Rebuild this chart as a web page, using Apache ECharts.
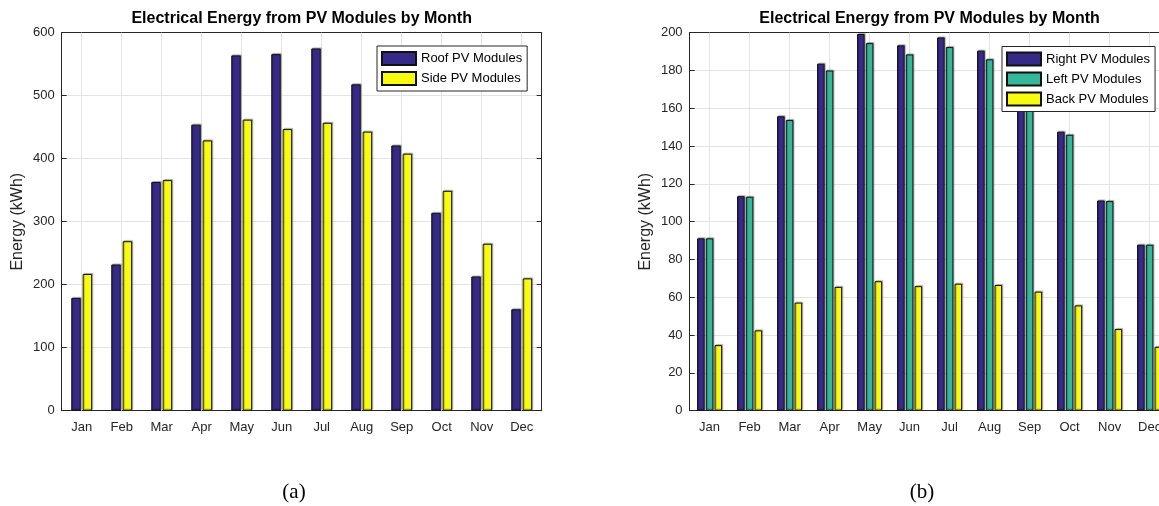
<!DOCTYPE html>
<html>
<head>
<meta charset="utf-8">
<title>Electrical Energy from PV Modules by Month</title>
<script src="https://cdn.jsdelivr.net/npm/echarts@6/dist/echarts.min.js"></script>
<style>
  html, body { margin: 0; padding: 0; background: #fff; }
  #main { width: 1159px; height: 506px; }
</style>
</head>
<body>
<div id="main"></div>
<script>
// Monthly energy (kWh)
const months = ['Jan', 'Feb', 'Mar', 'Apr', 'May', 'Jun', 'Jul', 'Aug', 'Sep', 'Oct', 'Nov', 'Dec'];

// (a) roof vs. side modules
const roofPV = [179, 232, 363, 454, 564, 566, 575, 518, 421, 314, 213, 161];
const sidePV = [217, 269, 366, 429, 462, 447, 457, 443, 408, 349, 265, 210];

// (b) right / left / back modules
const rightPV = [91.2, 113.5, 155.8, 183.6, 199.3, 193.3, 197.5, 190.5, 172.0, 147.6, 111.2, 87.8];
const leftPV  = [91.2, 113.2, 153.8, 180.0, 194.5, 188.5, 192.4, 185.9, 168.0, 146.0, 110.9, 87.8];
const backPV  = [34.7, 42.5, 57.2, 65.5, 68.5, 65.9, 67.2, 66.5, 63.0, 55.7, 43.2, 33.8];

const TITLE = 'Electrical Energy from PV Modules by Month';
const AXIS_NAME = 'Energy (kWh)';

const SANS = 'Liberation Sans, Arial, Helvetica, sans-serif';
const SERIF = 'Liberation Serif, DejaVu Serif, serif';
const INK = '#262626';
const GRID_LINE = '#e3e3e3';

const C_BLUE = '#352a87';
const C_GREEN = '#35b79b';
const C_YELLOW = '#f9fb0e';

const barStyle = (color) => ({
  color: color,
  borderColor: '#111',
  borderWidth: 1,
  shadowColor: 'rgba(0,0,0,0.28)',
  shadowOffsetX: 1,
  shadowOffsetY: -1,
  shadowBlur: 1
});

function xAxes(gridIndex) {
  const common = {
    type: 'category',
    gridIndex: gridIndex,
    data: months,
    boundaryGap: true,
    axisLine: { show: true, onZero: false, lineStyle: { color: INK, width: 1 } },
    axisTick: { show: true, inside: true, alignWithLabel: true, length: 5, lineStyle: { color: INK } },
    splitLine: { show: false }
  };
  return [
    Object.assign({}, common, {
      position: 'bottom',
      axisLabel: { color: INK, fontSize: 13, fontFamily: SANS, margin: 10 }
    }),
    Object.assign({}, common, {
      position: 'top',
      axisLabel: { show: false }
    })
  ];
}

function yAxes(gridIndex, max, interval) {
  const common = {
    type: 'value',
    gridIndex: gridIndex,
    min: 0,
    max: max,
    interval: interval,
    axisLine: { show: true, lineStyle: { color: INK, width: 1 } },
    axisTick: { show: true, inside: true, length: 5, lineStyle: { color: INK } }
  };
  return [
    Object.assign({}, common, {
      position: 'left',
      name: AXIS_NAME,
      nameLocation: 'middle',
      nameGap: 36,
      nameTextStyle: { color: INK, fontSize: 16, fontFamily: SANS },
      axisLabel: { color: INK, fontSize: 13, fontFamily: SANS, margin: 7 },
      splitLine: { show: true, lineStyle: { color: GRID_LINE, width: 1 } }
    }),
    Object.assign({}, common, {
      position: 'right',
      axisLabel: { show: false },
      splitLine: { show: false }
    })
  ];
}

// vertical grid lines at each month, kept behind the bars
function monthGridLines(xIdx, yIdx) {
  return {
    type: 'line',
    xAxisIndex: xIdx,
    yAxisIndex: yIdx,
    data: [],
    z: 1,
    silent: true,
    markLine: {
      z: 1,
      silent: true,
      symbol: 'none',
      label: { show: false },
      lineStyle: { color: GRID_LINE, type: 'solid', width: 1 },
      emphasis: { disabled: true },
      data: months.map(m => ({ xAxis: m }))
    }
  };
}

function legendBox(names, left, top) {
  return {
    data: names,
    orient: 'vertical',
    left: left,
    top: top,
    icon: 'rect',
    itemWidth: 34,
    itemHeight: 13,
    itemGap: 5,
    padding: [5, 5, 5, 4],
    borderColor: INK,
    borderWidth: 1,
    backgroundColor: '#fff',
    selectedMode: false,
    textStyle: { color: '#000', fontSize: 13, fontFamily: SANS, lineHeight: 13 }
  };
}

const chart = echarts.init(document.getElementById('main'), null, { renderer: 'canvas' });

chart.setOption({
  animation: false,
  backgroundColor: '#fff',
  title: [
    { text: TITLE, left: 301.7, top: 11, padding: 0, textAlign: 'center',
      textStyle: { color: '#000', fontSize: 16, fontWeight: 'bold', fontFamily: SANS } },
    { text: TITLE, left: 929.6, top: 11, padding: 0, textAlign: 'center',
      textStyle: { color: '#000', fontSize: 16, fontWeight: 'bold', fontFamily: SANS } },
    { text: '(a)', left: 294, top: 482, padding: 0, textAlign: 'center',
      textStyle: { color: '#000', fontSize: 21, fontWeight: 'normal', fontFamily: SERIF } },
    { text: '(b)', left: 922, top: 482, padding: 0, textAlign: 'center',
      textStyle: { color: '#000', fontSize: 21, fontWeight: 'normal', fontFamily: SERIF } }
  ],
  legend: [
    legendBox(['Roof PV Modules', 'Side PV Modules'], 377, 46),
    legendBox(['Right PV Modules', 'Left PV Modules', 'Back PV Modules'], 1002, 46.5)
  ],
  grid: [
    { left: 61.7, top: 32.7, width: 480, height: 378, outerBoundsMode: 'none' },
    { left: 689.6, top: 32.7, width: 480, height: 378, outerBoundsMode: 'none' }
  ],
  xAxis: [].concat(xAxes(0), xAxes(1)),
  yAxis: [].concat(yAxes(0, 600, 100), yAxes(1, 200, 20)),
  series: [
    monthGridLines(0, 0),
    { name: 'Roof PV Modules', type: 'bar', xAxisIndex: 0, yAxisIndex: 0, data: roofPV,
      barWidth: 9.5, barGap: '20%', itemStyle: barStyle(C_BLUE) },
    { name: 'Side PV Modules', type: 'bar', xAxisIndex: 0, yAxisIndex: 0, data: sidePV,
      barWidth: 9.5, barGap: '20%', itemStyle: barStyle(C_YELLOW) },

    monthGridLines(2, 2),
    { name: 'Right PV Modules', type: 'bar', xAxisIndex: 2, yAxisIndex: 2, data: rightPV,
      barWidth: 7.6, barGap: '15%', itemStyle: barStyle(C_BLUE) },
    { name: 'Left PV Modules', type: 'bar', xAxisIndex: 2, yAxisIndex: 2, data: leftPV,
      barWidth: 7.6, barGap: '15%', itemStyle: barStyle(C_GREEN) },
    { name: 'Back PV Modules', type: 'bar', xAxisIndex: 2, yAxisIndex: 2, data: backPV,
      barWidth: 7.6, barGap: '15%', itemStyle: barStyle(C_YELLOW) }
  ]
});
</script>
</body>
</html>
